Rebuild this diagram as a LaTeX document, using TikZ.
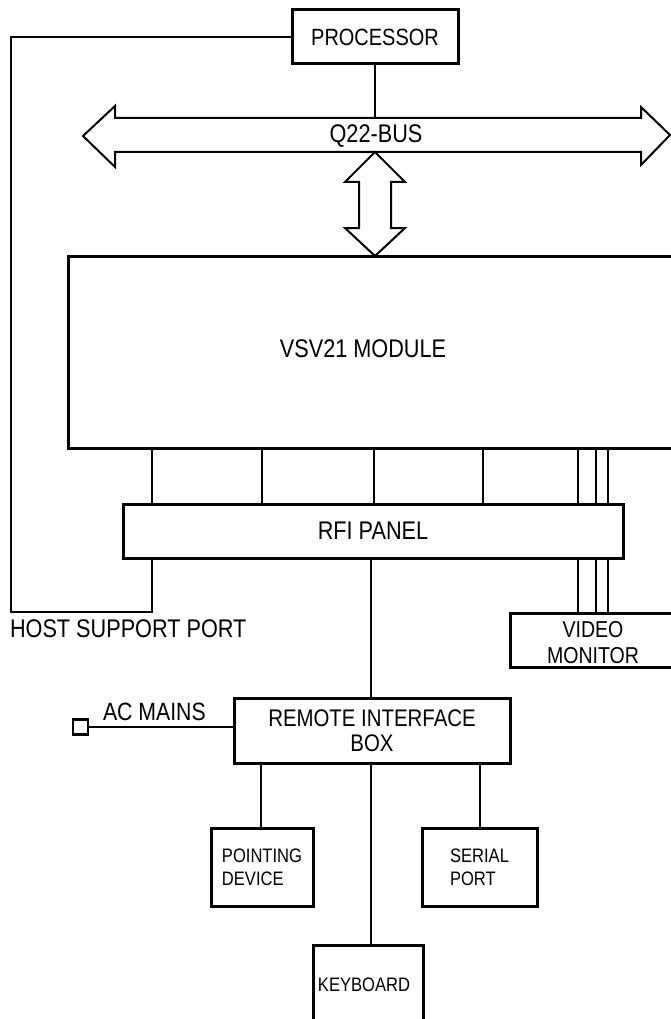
\documentclass[tikz,border=0pt]{standalone}
\usepackage{fontspec}
\setmainfont{Liberation Sans}[FakeStretch=0.85]
\newcommand\pfs[2]{\fontsize{#1}{#2}\selectfont}
\begin{document}
\begin{tikzpicture}[x=1pt,y=-1pt,
  box/.style={draw, line width=3pt, inner sep=0pt, outer sep=0pt, anchor=north west, align=center},
  wire/.style={line width=1.8pt},
  fat/.style={line width=2pt, line join=miter},
  lbl/.style={inner sep=0pt, outer sep=0pt, align=center},
]
\clip (0,0) rectangle (671,1019);
\fill[white] (0,0) rectangle (671,1019);

% boxes
\node[box, minimum width=166pt, minimum height=54pt, font=\pfs{23.5}{28}] (proc) at (292,10) {PROCESSOR};
\node[box, minimum width=640pt, minimum height=192pt] (vsv) at (68,256) {};
\node[lbl, font=\pfs{25.5}{30}] (vsvlbl) at (363,349) {VSV21 MODULE};
\node[box, minimum width=500pt, minimum height=54pt, font=\pfs{25.5}{30}] (rfi) at (123,504) {RFI PANEL};
\node[box, minimum width=200pt, minimum height=54pt] (vid) at (510,613) {};
\node[lbl, font=\pfs{23}{26}] (vidlbl) at (593,643) {VIDEO\\MONITOR};
\node[box, minimum width=276pt, minimum height=65pt, font=\pfs{24}{25}] (rib) at (234,698) {REMOTE INTERFACE\\BOX};
\node[box, minimum width=102pt, minimum height=78pt, font=\pfs{19.5}{23}, align=left] (pd) at (211,828) {POINTING\\DEVICE};
\node[box, minimum width=115pt, minimum height=78pt, font=\pfs{19.5}{23}, align=left] (sp) at (422,828) {SERIAL\\PORT};
\node[box, minimum width=110pt, minimum height=100pt] (kb) at (313,945) {};
\node[lbl, font=\pfs{19.5}{22}] (kblbl) at (364,985) {KEYBOARD};

% Q22 bus double arrow
\draw[fat] (83,136) -- (115,106) -- (115,118) -- (641,118) -- (641,107) -- (670,135)
  -- (641,165) -- (641,152) -- (115,152) -- (115,167) -- cycle;
\node[lbl, font=\pfs{25.5}{30}] (bus) at (376,136) {Q22-BUS};
\coordinate (bustop) at (375,118);
\coordinate (busbot) at (375,152);

% vertical double arrow bus <-> VSV21
\draw[fat] (busbot) -- (405,182) -- (391,182) -- (391,228) -- (405,228) -- (375,256)
  -- (345,228) -- (359,228) -- (359,182) -- (345,182) -- cycle;

% processor to bus
\draw[wire] (proc.south -| bustop) -- (bustop);

% host support port loop
\coordinate (hc1) at (152,612);
\coordinate (hc2) at (11,612);
\coordinate (hc3) at (11,37);
\draw[wire] (vsv.south -| hc1) -- (rfi.north -| hc1);
\draw[wire] (rfi.south -| hc1) -- (hc1) -- (hc2) -- (hc3) -- (proc.west |- hc3);
\node[lbl, font=\pfs{25.5}{30}, anchor=west] (hsp) at (10,629) {HOST SUPPORT PORT};

% VSV21 to RFI panel
\foreach \x in {262,374,483}{
  \draw[wire] (vsv.south -| \x,0) -- (rfi.north -| \x,0);
}
% video lines
\foreach \x in {578,596,608}{
  \draw[wire] (vsv.south -| \x,0) -- (rfi.north -| \x,0);
  \draw[wire] (rfi.south -| \x,0) -- (vid.north -| \x,0);
}

% RFI to remote box
\draw[wire] (rfi.south -| 371,0) -- (rib.north -| 371,0);

% AC mains
\node[draw, line width=2.2pt, minimum width=15pt, minimum height=15pt, inner sep=0pt] (plug) at (80.5,727) {};
\draw[wire] (plug.east) -- (rib.west |- plug.east);
\node[lbl, font=\pfs{25}{30}, anchor=west] (acm) at (103,712) {AC MAINS};

% remote box to peripherals
\draw[wire] (rib.south -| 261,0) -- (pd.north -| 261,0);
\draw[wire] (rib.south -| 371,0) -- (kb.north -| 371,0);
\draw[wire] (rib.south -| 480,0) -- (sp.north -| 480,0);
\end{tikzpicture}
\end{document}
